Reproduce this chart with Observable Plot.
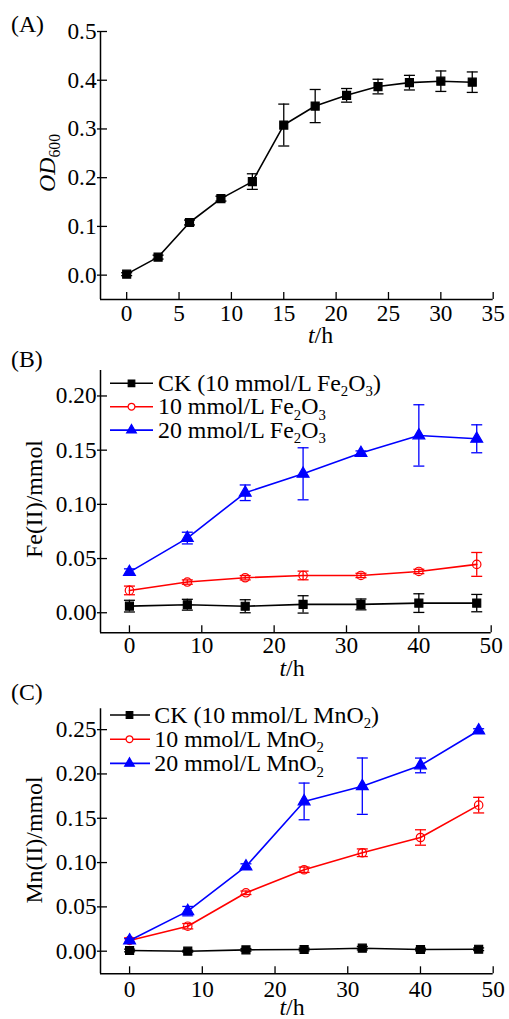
<!DOCTYPE html>
<html><head><meta charset="utf-8">
<script src="https://cdn.jsdelivr.net/npm/d3@7"></script>
<script src="https://cdn.jsdelivr.net/npm/@observablehq/plot@0.6"></script>
<style>
body{margin:0;background:#fff}
#root{position:relative;width:509px;height:1019px;overflow:hidden}
#root > svg{position:absolute;left:0}
</style>
</head><body><div id="root"></div>
<script>
// ---------- data ----------
const timeA = [0, 3, 6, 9, 12, 15, 18, 21, 24, 27, 30, 33];
const odA = [0.002, 0.037, 0.108, 0.157, 0.192, 0.308, 0.347, 0.369, 0.387, 0.395, 0.398, 0.396];
const odErrA = [0.003, 0.004, 0.005, 0.005, 0.016, 0.043, 0.034, 0.014, 0.015, 0.015, 0.021, 0.021];

const timeBC = [0, 8, 16, 24, 32, 40, 48];
const feCK = [0.0061, 0.0074, 0.0060, 0.0077, 0.0077, 0.0089, 0.0089];
const feCKErr = [0.0054, 0.0050, 0.0060, 0.0080, 0.0050, 0.0086, 0.0080];
const fe10 = [0.0206, 0.0283, 0.0323, 0.0344, 0.0344, 0.0381, 0.0446];
const fe10Err = [0.0040, 0.0020, 0.0020, 0.0040, 0.0020, 0.0020, 0.0110];
const fe20 = [0.0375, 0.0689, 0.1107, 0.1282, 0.1473, 0.1636, 0.1605];
const fe20Err = [0.0030, 0.0054, 0.0072, 0.0240, 0.0020, 0.0283, 0.0129];

const mnCK = [0.0008, 0.0000, 0.0015, 0.0019, 0.0034, 0.0019, 0.0022];
const mnCKErr = [0.0015, 0.0010, 0.0015, 0.0015, 0.0020, 0.0015, 0.0015];
const mn10 = [0.0121, 0.0282, 0.0659, 0.0919, 0.1111, 0.1283, 0.1648];
const mn10Err = [0.0030, 0.0030, 0.0020, 0.0030, 0.0043, 0.0087, 0.0088];
const mn20 = [0.0121, 0.0452, 0.0956, 0.1690, 0.1862, 0.2096, 0.2490];
const mn20Err = [0.0020, 0.0053, 0.0030, 0.0207, 0.0318, 0.0083, 0.0020];

const ticksXA = [0, 5, 10, 15, 20, 25, 30, 35];
const ticksYA = [0, 0.1, 0.2, 0.3, 0.4, 0.5];
const ticksXBC = [0, 10, 20, 30, 40, 50];
const ticksYB = [0, 0.05, 0.10, 0.15, 0.20];
const ticksYC = [0, 0.05, 0.10, 0.15, 0.20, 0.25];

const legendB = ["CK (10 mmol/L Fe₂O₃)", "10 mmol/L Fe₂O₃", "20 mmol/L Fe₂O₃"];
const legendC = ["CK (10 mmol/L MnO₂)", "10 mmol/L MnO₂", "20 mmol/L MnO₂"];

// ---------- font calibration (match text widths of the reference) ----------
const FONT = "'Liberation Serif','Times New Roman',serif";
const SUB_RATIO = 0.62;
function measure(str, size, italic = false) {
  const s = d3.select("body").append("svg").attr("width", 10).attr("height", 10);
  const t = s.append("text").attr("font-family", FONT).attr("font-size", size).text(str);
  if (italic) t.attr("font-style", "italic");
  const w = t.node().getComputedTextLength();
  s.remove();
  return w;
}
const fitSize = (str, target) => 100 * target / measure(str, 100);
const TICK_FS = Math.min(26, fitSize("0.20", 40.7));
const LEG_FS = (() => {
  const w = measure("CK (10 mmol/L FeO)", 100) + SUB_RATIO * measure("23", 100);
  return 100 * 223 / w;
})();
const TITLE_FS = fitSize("Fe(II)/mmol", 118);
const PANEL_FS = fitSize("(A)", 33);

// ---------- styles ----------
const BLACK = "#000000", RED = "#ff0000", BLUE = "#0000ff";
const cap = {draw(ctx, size) { const r = Math.sqrt(size / Math.PI); ctx.moveTo(-r, 0); ctx.lineTo(r, 0); }};
const styles = [
  {color: BLACK, symbol: "square", fill: BLACK, r: 4.5},
  {color: RED, symbol: "circle", fill: "none", r: 4.2},
  {color: BLUE, symbol: "triangle", fill: BLUE, r: 4.4}
];

function seriesMarks(t, y, e, st) {
  const data = t.map((ti, i) => ({t: ti, y: y[i], e: e[i]}));
  return [
    Plot.line(data, {x: "t", y: "y", stroke: st.color, strokeWidth: 1.6}),
    Plot.ruleX(data, {x: "t", y1: d => d.y - d.e, y2: d => d.y + d.e, stroke: st.color, strokeWidth: 1.3}),
    Plot.dot(data, {x: "t", y: d => d.y + d.e, symbol: cap, r: 5.5, stroke: st.color, fill: "none", strokeWidth: 1.3}),
    Plot.dot(data, {x: "t", y: d => d.y - d.e, symbol: cap, r: 5.5, stroke: st.color, fill: "none", strokeWidth: 1.3}),
    Plot.dot(data, {x: "t", y: "y", symbol: st.symbol, r: st.r, fill: st.fill, stroke: st.color, strokeWidth: 1.2})
  ];
}

function panel(o) {
  const xPad = o.xBase - 0.71 * TICK_FS + 7;
  const marks = [
    Plot.ruleX([o.xDomain[0]], {stroke: BLACK, strokeWidth: 1.5}),
    Plot.ruleY([o.yDomain[0]], {stroke: BLACK, strokeWidth: 1.5}),
    Plot.axisX({ticks: o.xTicks, anchor: "bottom", tickSize: -7, tickPadding: xPad, tickFormat: d => String(d), label: null, fontSize: TICK_FS, strokeWidth: 1.3}),
    Plot.axisY({ticks: o.yTicks, anchor: "left", tickSize: -7, tickPadding: 11, tickFormat: o.yFmt, label: null, fontSize: TICK_FS, strokeWidth: 1.3}),
    Plot.axisY({ticks: o.yTicks, anchor: "left", tickSize: 3, tickPadding: 0, tickFormat: () => "", label: null, strokeWidth: 1.3}),
    ...o.series.flatMap(s => seriesMarks(...s))
  ];
  const svg = Plot.plot({
    width: 509, height: o.height,
    marginLeft: 100, marginRight: o.marginRight, marginTop: o.marginTop, marginBottom: o.marginBottom,
    x: {domain: o.xDomain},
    y: {domain: o.yDomain},
    style: {fontFamily: FONT, fontSize: TICK_FS + "px", color: "#000", background: "transparent", overflow: "visible"},
    marks
  });
  svg.style.top = o.top + "px";
  document.getElementById("root").appendChild(svg);
  return svg;
}

// rich text helper: segments [{t, italic, sub}]
function richText(svg, x, y, segs, {size = 24, anchor = "start", rotate = 0, subSize = 15, shift = 5} = {}) {
  const txt = d3.select(svg).append("text")
    .attr("transform", `translate(${x},${y}) rotate(${rotate})`)
    .attr("text-anchor", anchor).attr("font-family", FONT).attr("font-size", size).attr("fill", "#000");
  let cur = 0;
  for (const s of segs) {
    const target = s.sub ? shift : 0;
    const ts = txt.append("tspan").text(s.t).attr("dy", target - cur);
    if (s.sub) ts.attr("font-size", subSize);
    if (s.italic) ts.attr("font-style", "italic");
    cur = target;
  }
  return txt;
}
function parseSub(label) {
  const segs = [];
  for (const ch of label) {
    const isSub = "₀₁₂₃₄₅₆₇₈₉".includes(ch);
    const c = isSub ? String("₀₁₂₃₄₅₆₇₈₉".indexOf(ch)) : ch;
    if (segs.length && segs[segs.length - 1].sub === isSub) segs[segs.length - 1].t += c;
    else segs.push({t: c, sub: isSub});
  }
  return segs;
}
function legend(svg, labels, o) {
  const g = d3.select(svg).append("g");
  labels.forEach((lab, i) => {
    const y = o.y0 + i * o.dy;
    const st = styles[i];
    g.append("line").attr("x1", o.x1).attr("x2", o.x2).attr("y1", y).attr("y2", y)
      .attr("stroke", st.color).attr("stroke-width", 1.6);
    const sym = d3.symbol(st.symbol === "square" ? d3.symbolSquare : st.symbol === "circle" ? d3.symbolCircle : d3.symbolTriangle, Math.PI * (st.r - 0.8) ** 2);
    g.append("path").attr("d", sym()).attr("transform", `translate(${o.xm},${y})`)
      .attr("fill", st.fill === "none" ? "#fff" : st.fill).attr("stroke", st.color).attr("stroke-width", 1.2);
    richText(svg, o.xt, y + o.base, parseSub(lab), {size: LEG_FS, subSize: LEG_FS * SUB_RATIO, shift: 0.22 * LEG_FS});
  });
}
const tH = [{t: "t", italic: true}, {t: "/h"}];

// ---------- Panel A ----------
const svgA = panel({
  top: 0, height: 346, marginTop: 31, marginBottom: 47, marginRight: 16.3,
  xDomain: [-2.5, 35], yDomain: [-0.05, 0.5], xTicks: ticksXA, yTicks: ticksYA, xBase: 21.7,
  yFmt: d => d.toFixed(1),
  series: [[timeA, odA, odErrA, styles[0]]]
});
richText(svgA, 11, 32, [{t: "(A)"}], {size: PANEL_FS});
richText(svgA, 55, 192, [{t: "OD", italic: true}, {t: "600", sub: true}], {size: TITLE_FS, rotate: -90, subSize: TITLE_FS * 0.66, shift: 5});
richText(svgA, 320.5, 343, tH, {size: TITLE_FS, anchor: "middle"});

// ---------- Panel B ----------
const svgB = panel({
  top: 346, height: 334, marginTop: 24, marginBottom: 47.7, marginRight: 18.3,
  xDomain: [-4, 50], yDomain: [-0.0185, 0.2235], xTicks: ticksXBC, yTicks: ticksYB, xBase: 20.4,
  yFmt: d => d.toFixed(2),
  series: [[timeBC, feCK, feCKErr, styles[0]], [timeBC, fe10, fe10Err, styles[1]], [timeBC, fe20, fe20Err, styles[2]]]
});
richText(svgB, 11, 21, [{t: "(B)"}], {size: PANEL_FS});
richText(svgB, 42, 153, [{t: "Fe(II)/mmol"}], {size: TITLE_FS, rotate: -90, anchor: "middle"});
richText(svgB, 292, 330, tH, {size: TITLE_FS, anchor: "middle"});
legend(svgB, legendB, {x1: 110, x2: 153, xm: 131.5, xt: 158, y0: 37.3, dy: 23.4, base: 7.7});

// ---------- Panel C ----------
const svgC = panel({
  top: 680, height: 339, marginTop: 28.3, marginBottom: 45.7, marginRight: 16.3,
  xDomain: [-4, 50], yDomain: [-0.0255, 0.2735], xTicks: ticksXBC, yTicks: ticksYC, xBase: 23.4,
  yFmt: d => d.toFixed(2),
  series: [[timeBC, mnCK, mnCKErr, styles[0]], [timeBC, mn10, mn10Err, styles[1]], [timeBC, mn20, mn20Err, styles[2]]]
});
richText(svgC, 11, 20, [{t: "(C)"}], {size: PANEL_FS});
richText(svgC, 42, 160, [{t: "Mn(II)/mmol"}], {size: TITLE_FS, rotate: -90, anchor: "middle"});
richText(svgC, 292, 334.5, tH, {size: TITLE_FS, anchor: "middle"});
legend(svgC, legendC, {x1: 110, x2: 150, xm: 129.5, xt: 154.3, y0: 35, dy: 24.2, base: 8});
</script>
</body></html>
